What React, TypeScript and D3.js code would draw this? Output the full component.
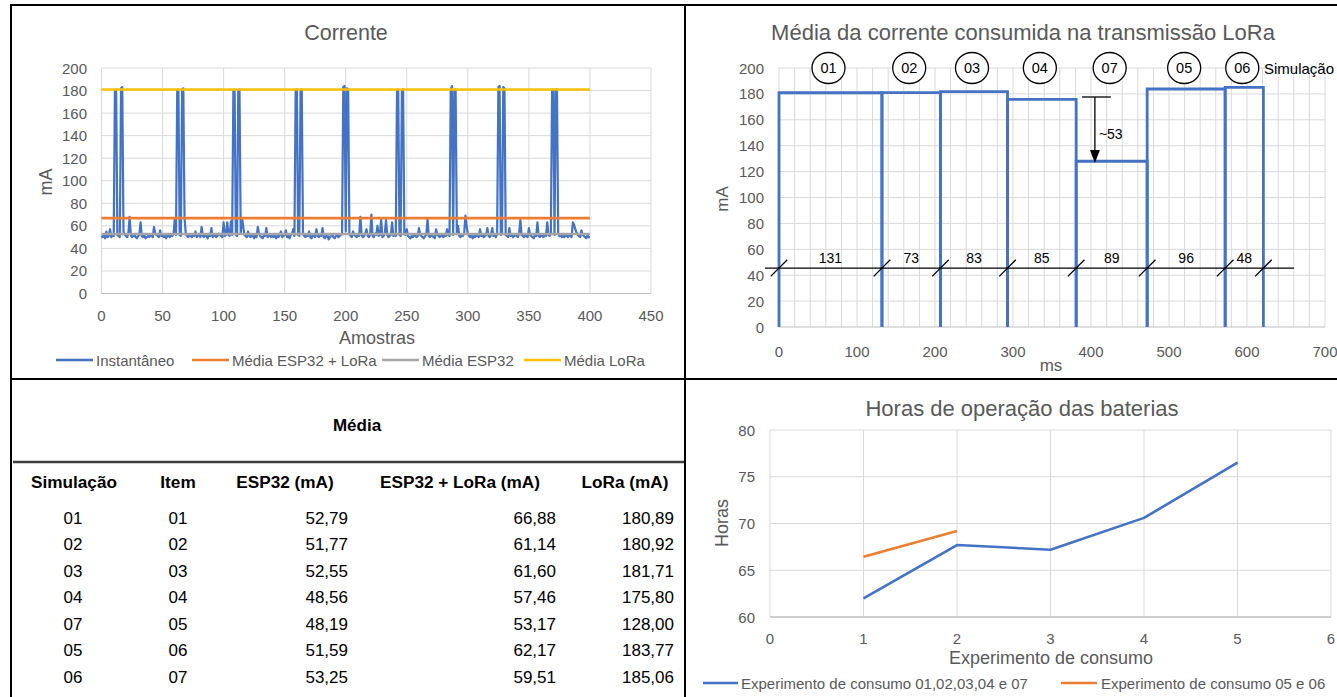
import React from 'react';
import * as d3 from 'd3';

// ---------- Data ----------
const instantaneo: number[] = [
  51,50,52,49,55,50,51,57,50,52,51,180,181,52,51,50,182,183,55,52,
  51,50,53,68,52,50,51,52,50,49,51,52,63,51,50,52,49,50,51,50,
  52,51,50,59,53,52,51,50,56,51,52,50,51,49,52,51,50,52,51,53,
  66,52,180,181,52,51,181,182,67,53,51,50,52,51,50,52,51,55,50,51,
  52,50,59,51,50,52,51,49,52,51,58,50,51,52,50,51,53,52,51,50,
  63,51,52,63,52,51,64,52,180,181,52,51,180,181,53,67,60,52,51,50,
  55,51,50,52,51,49,52,50,59,53,51,50,49,52,51,58,50,51,52,50,
  51,50,52,49,51,50,52,55,50,51,52,56,50,51,49,52,53,57,51,180,
  181,52,51,180,181,53,51,50,52,51,55,50,49,52,51,50,57,51,50,52,
  51,58,50,49,51,52,48,50,51,52,50,49,51,52,50,51,52,53,183,184,
  55,182,181,53,51,50,55,52,51,50,52,51,68,52,50,51,53,57,51,50,
  52,70,51,50,53,52,60,51,52,66,50,51,53,65,52,50,51,52,63,51,
  52,51,180,181,52,51,180,181,53,52,57,51,50,49,51,50,52,51,50,51,
  58,52,51,50,49,51,52,66,51,50,52,51,50,49,57,52,51,50,52,51,
  50,52,51,57,52,51,180,184,52,180,181,53,60,51,50,52,51,53,69,60,
  53,51,50,52,49,51,50,52,51,50,57,51,52,50,51,52,58,51,50,52,
  58,51,52,50,53,183,184,52,53,183,182,52,51,50,58,51,52,50,51,52,
  51,50,53,65,52,51,50,52,51,50,58,52,51,50,49,52,51,63,51,50,
  52,51,50,52,51,63,52,51,53,180,181,52,180,181,53,51,52,50,51,50,
  52,51,50,52,51,50,63,61,57,54,52,51,50,56,52,51,50,49,52,50,
  50,
];
const mediaEsp32Lora = 66.88;
const mediaEsp32 = 52.79;
const mediaLoraGeral = 180.89;
const amostrasMax = 400;

const xTicks1 = [0, 50, 100, 150, 200, 250, 300, 350, 400, 450];
const yTicks1 = [0, 20, 40, 60, 80, 100, 120, 140, 160, 180, 200];

const simulacoes = ['01', '02', '03', '04', '07', '05', '06'];
const itens = ['01', '02', '03', '04', '05', '06', '07'];
const esp32 = [52.79, 51.77, 52.55, 48.56, 48.19, 51.59, 53.25];
const esp32Lora = [66.88, 61.14, 61.6, 57.46, 53.17, 62.17, 59.51];
const loraMedia = [180.89, 180.92, 181.71, 175.8, 128.0, 183.77, 185.06];

const blockBounds = [0, 132, 207, 293, 381, 472, 572, 621];
const duracoes = ['131', '73', '83', '85', '89', '96', '48'];
const xTicks2 = [0, 100, 200, 300, 400, 500, 600, 700];
const yTicks2 = [0, 20, 40, 60, 80, 100, 120, 140, 160, 180, 200];
const breakLevel = 45.5;
const arrowMs = 405;
const arrowTop = 177.6;
const arrowBottom = 126.6;

const expA = [1, 2, 3, 4, 5];
const horasA = [62.0, 67.7, 67.2, 70.6, 76.5];
const expB = [1, 2];
const horasB = [66.45, 69.2];
const xTicks3 = [0, 1, 2, 3, 4, 5, 6];
const yTicks3 = [60, 65, 70, 75, 80];

// ---------- Styles ----------
const FONT = '"Liberation Sans", Arial, sans-serif';
const GRID = '#d9d9d9';
const AXIS = '#bfbfbf';
const TXT = '#595959';
const BLUE = '#4472C4';
const ORANGE = '#ED7D31';
const GRAY = '#A5A5A5';
const YELLOW = '#FFC000';

const fmt = (v: number) => d3.format('.2f')(v).replace('.', ',');

export default function App() {
  // chart 1
  const x1 = d3.scaleLinear().domain([0, 450]).range([101.5, 651]);
  const y1 = d3.scaleLinear().domain([0, 200]).range([293.5, 68]);
  const line1 = d3
    .line<number>()
    .x((_, i) => x1(i))
    .y((d) => y1(d));

  // chart 2
  const x2 = d3.scaleLinear().domain([0, 700]).range([779, 1325]);
  const y2 = d3.scaleLinear().domain([0, 200]).range([327, 68]);
  const minor2 = d3.range(0, 701, 20);

  // chart 3
  const x3 = d3.scaleLinear().domain([0, 6]).range([770, 1331]);
  const y3 = d3.scaleLinear().domain([60, 80]).range([617, 430]);
  const line3 = d3
    .line<[number, number]>()
    .x((d) => x3(d[0]))
    .y((d) => y3(d[1]));

  const legend1 = [
    { label: 'Instantâneo', color: BLUE, x: 56 },
    { label: 'Média ESP32 + LoRa', color: ORANGE, x: 192 },
    { label: 'Média ESP32', color: GRAY, x: 382 },
    { label: 'Média LoRa', color: YELLOW, x: 524 },
  ];

  const tableCols = [
    { h: 'Simulação', cx: 74 },
    { h: 'Item', cx: 178 },
    { h: 'ESP32 (mA)', cx: 285 },
    { h: 'ESP32 + LoRa (mA)', cx: 460 },
    { h: 'LoRa (mA)', cx: 625 },
  ];

  return (
    <div style={{ position: 'absolute', left: 0, top: 0 }}>
      <svg width={1337} height={697} style={{ display: 'block', background: '#fff' }} fontFamily={FONT}>
        <rect x={0} y={0} width={1337} height={697} fill="#fff" />

        {/* ===== Chart 1: Corrente ===== */}
        <g>
          {xTicks1.map((t) => (
            <line key={'gx' + t} x1={x1(t)} x2={x1(t)} y1={y1(0)} y2={y1(200)} stroke={GRID} strokeWidth={1} />
          ))}
          {yTicks1.map((t) => (
            <line key={'gy' + t} x1={x1(0)} x2={x1(450)} y1={y1(t)} y2={y1(t)} stroke={t === 0 ? AXIS : GRID} strokeWidth={1} />
          ))}
          {yTicks1.map((t) => (
            <text key={'ly' + t} x={87} y={y1(t)} textAnchor="end" dominantBaseline="central" fontSize={15} fill={TXT}>
              {t}
            </text>
          ))}
          {xTicks1.map((t) => (
            <text key={'lx' + t} x={x1(t)} y={315} textAnchor="middle" dominantBaseline="central" fontSize={15} fill={TXT}>
              {t}
            </text>
          ))}
          <path d={line1(instantaneo) || ''} fill="none" stroke={BLUE} strokeWidth={2.2} strokeLinejoin="round" />
          <line x1={x1(0)} x2={x1(amostrasMax)} y1={y1(mediaEsp32Lora)} y2={y1(mediaEsp32Lora)} stroke={ORANGE} strokeWidth={2.6} />
          <line x1={x1(0)} x2={x1(amostrasMax)} y1={y1(mediaEsp32)} y2={y1(mediaEsp32)} stroke={GRAY} strokeWidth={2.6} />
          <line x1={x1(0)} x2={x1(amostrasMax)} y1={y1(mediaLoraGeral)} y2={y1(mediaLoraGeral)} stroke={YELLOW} strokeWidth={2.6} />
          <text x={346} y={33} textAnchor="middle" dominantBaseline="central" fontSize={21.5} fill={TXT}>
            Corrente
          </text>
          <text transform="translate(46,182) rotate(-90)" textAnchor="middle" dominantBaseline="central" fontSize={18} fill={TXT}>
            mA
          </text>
          <text x={377} y={338} textAnchor="middle" dominantBaseline="central" fontSize={18} fill={TXT}>
            Amostras
          </text>
          {legend1.map((l) => (
            <g key={l.label}>
              <line x1={l.x} x2={l.x + 37} y1={360} y2={360} stroke={l.color} strokeWidth={2.6} />
              <text x={l.x + 40} y={360} dominantBaseline="central" fontSize={15} fill={TXT}>
                {l.label}
              </text>
            </g>
          ))}
        </g>

        {/* ===== Chart 2: Média da corrente ===== */}
        <g>
          {minor2.map((t) => (
            <line key={'g2x' + t} x1={x2(t)} x2={x2(t)} y1={y2(0)} y2={y2(200)} stroke={GRID} strokeWidth={1} />
          ))}
          {yTicks2.map((t) => (
            <line key={'g2y' + t} x1={x2(0)} x2={x2(700)} y1={y2(t)} y2={y2(t)} stroke={t === 0 ? AXIS : GRID} strokeWidth={1} />
          ))}
          {yTicks2.map((t) => (
            <text key={'l2y' + t} x={764} y={y2(t)} textAnchor="end" dominantBaseline="central" fontSize={15} fill={TXT}>
              {t}
            </text>
          ))}
          {xTicks2.map((t) => (
            <text key={'l2x' + t} x={x2(t)} y={351} textAnchor="middle" dominantBaseline="central" fontSize={15} fill={TXT}>
              {t}
            </text>
          ))}
          {loraMedia.map((v, i) => {
            const s = blockBounds[i];
            const e = blockBounds[i + 1];
            const p = d3.path();
            p.moveTo(x2(s), y2(0));
            p.lineTo(x2(s), y2(v));
            p.lineTo(x2(e), y2(v));
            p.lineTo(x2(e), y2(0));
            return <path key={'blk' + i} d={p.toString()} fill="none" stroke={BLUE} strokeWidth={2.8} />;
          })}
          {/* break line */}
          <line x1={765} x2={1294} y1={y2(breakLevel)} y2={y2(breakLevel)} stroke="#000" strokeWidth={1.3} />
          {blockBounds.map((b, i) => (
            <line
              key={'sl' + i}
              x1={x2(b) - 8.3}
              y1={y2(breakLevel) + 8.3}
              x2={x2(b) + 8.3}
              y2={y2(breakLevel) - 8.3}
              stroke="#000"
              strokeWidth={1.3}
            />
          ))}
          {duracoes.map((d, i) => (
            <text
              key={'du' + i}
              x={x2((blockBounds[i] + blockBounds[i + 1]) / 2)}
              y={258}
              textAnchor="middle"
              dominantBaseline="central"
              fontSize={14}
              fill="#000"
            >
              {d}
            </text>
          ))}
          {simulacoes.map((s, i) => {
            const cx = x2((blockBounds[i] + blockBounds[i + 1]) / 2) - 2;
            return (
              <g key={'ci' + s}>
                <ellipse cx={cx} cy={68} rx={16.5} ry={15.5} fill="#fff" stroke="#000" strokeWidth={1.3} />
                <text x={cx} y={68} textAnchor="middle" dominantBaseline="central" fontSize={14.5} fill="#000">
                  {s}
                </text>
              </g>
            );
          })}
          <text x={1264} y={68} dominantBaseline="central" fontSize={15} fill="#000">
            Simulação
          </text>
          {/* arrow */}
          <line x1={x2(arrowMs) - 13} x2={x2(arrowMs) + 16} y1={y2(arrowTop)} y2={y2(arrowTop)} stroke="#000" strokeWidth={1.3} />
          <line x1={x2(arrowMs)} x2={x2(arrowMs)} y1={y2(arrowTop)} y2={y2(arrowBottom) - 12} stroke="#000" strokeWidth={1.3} />
          <path
            d={`M${x2(arrowMs) - 5},${y2(arrowBottom) - 13} L${x2(arrowMs) + 5},${y2(arrowBottom) - 13} L${x2(arrowMs)},${y2(arrowBottom)} Z`}
            fill="#000"
          />
          <text x={x2(arrowMs) + 4} y={134} dominantBaseline="central" fontSize={14} fill="#000">
            ~53
          </text>
          <text x={1023} y={32} textAnchor="middle" dominantBaseline="central" fontSize={22} fill={TXT}>
            Média da corrente consumida na transmissão LoRa
          </text>
          <text transform="translate(722,199) rotate(-90)" textAnchor="middle" dominantBaseline="central" fontSize={17} fill={TXT}>
            mA
          </text>
          <text x={1051} y={365} textAnchor="middle" dominantBaseline="central" fontSize={17} fill={TXT}>
            ms
          </text>
        </g>

        {/* ===== Table ===== */}
        <g>
          <text x={357} y={425} textAnchor="middle" dominantBaseline="central" fontSize={17} fontWeight="bold" fill="#000">
            Média
          </text>
          <line x1={13} x2={684} y1={462} y2={462} stroke="#404040" strokeWidth={2.5} />
          {tableCols.map((c) => (
            <text key={c.h} x={c.cx} y={482} textAnchor="middle" dominantBaseline="central" fontSize={17.2} fontWeight="bold" fill="#000">
              {c.h}
            </text>
          ))}
          {simulacoes.map((s, i) => {
            const yy = 518 + i * 26.5;
            return (
              <g key={'row' + i}>
                <text x={73} y={yy} textAnchor="middle" dominantBaseline="central" fontSize={17} fill="#000">
                  {s}
                </text>
                <text x={178} y={yy} textAnchor="middle" dominantBaseline="central" fontSize={17} fill="#000">
                  {itens[i]}
                </text>
                <text x={348} y={yy} textAnchor="end" dominantBaseline="central" fontSize={17} fill="#000">
                  {fmt(esp32[i])}
                </text>
                <text x={556} y={yy} textAnchor="end" dominantBaseline="central" fontSize={17} fill="#000">
                  {fmt(esp32Lora[i])}
                </text>
                <text x={674} y={yy} textAnchor="end" dominantBaseline="central" fontSize={17} fill="#000">
                  {fmt(loraMedia[i])}
                </text>
              </g>
            );
          })}
        </g>

        {/* ===== Chart 3: Horas ===== */}
        <g>
          {xTicks3.map((t) => (
            <line key={'g3x' + t} x1={x3(t)} x2={x3(t)} y1={y3(60)} y2={y3(80)} stroke={GRID} strokeWidth={1} />
          ))}
          {yTicks3.map((t) => (
            <line key={'g3y' + t} x1={x3(0)} x2={x3(6)} y1={y3(t)} y2={y3(t)} stroke={t === 60 ? AXIS : GRID} strokeWidth={t === 60 ? 1.3 : 1} />
          ))}
          {yTicks3.map((t) => (
            <text key={'l3y' + t} x={755} y={y3(t)} textAnchor="end" dominantBaseline="central" fontSize={15} fill={TXT}>
              {t}
            </text>
          ))}
          {xTicks3.map((t) => (
            <text key={'l3x' + t} x={x3(t)} y={638} textAnchor="middle" dominantBaseline="central" fontSize={15} fill={TXT}>
              {t}
            </text>
          ))}
          <path
            d={line3(expA.map((e, i) => [e, horasA[i]] as [number, number])) || ''}
            fill="none"
            stroke={BLUE}
            strokeWidth={2.6}
            strokeLinejoin="round"
          />
          <path
            d={line3(expB.map((e, i) => [e, horasB[i]] as [number, number])) || ''}
            fill="none"
            stroke={ORANGE}
            strokeWidth={2.6}
            strokeLinejoin="round"
          />
          <text x={1022} y={408} textAnchor="middle" dominantBaseline="central" fontSize={22} fill={TXT}>
            Horas de operação das baterias
          </text>
          <text transform="translate(722,523) rotate(-90)" textAnchor="middle" dominantBaseline="central" fontSize={18} fill={TXT}>
            Horas
          </text>
          <text x={1051} y={658} textAnchor="middle" dominantBaseline="central" fontSize={18} fill={TXT}>
            Experimento de consumo
          </text>
          <line x1={703} x2={738} y1={683} y2={683} stroke={BLUE} strokeWidth={2.6} />
          <text x={741} y={683} dominantBaseline="central" fontSize={15} fill={TXT}>
            Experimento de consumo 01,02,03,04 e 07
          </text>
          <line x1={1061} x2={1097} y1={683} y2={683} stroke={ORANGE} strokeWidth={2.6} />
          <text x={1101} y={683} dominantBaseline="central" fontSize={15} fill={TXT}>
            Experimento de consumo 05 e 06
          </text>
        </g>

        {/* ===== Panel borders ===== */}
        <line x1={10} x2={1337} y1={5} y2={5} stroke="#000" strokeWidth={2} />
        <line x1={11} x2={11} y1={4} y2={697} stroke="#000" strokeWidth={2} />
        <line x1={685} x2={685} y1={4} y2={697} stroke="#000" strokeWidth={2} />
        <line x1={10} x2={1337} y1={379} y2={379} stroke="#000" strokeWidth={2} />
      </svg>
    </div>
  );
}
